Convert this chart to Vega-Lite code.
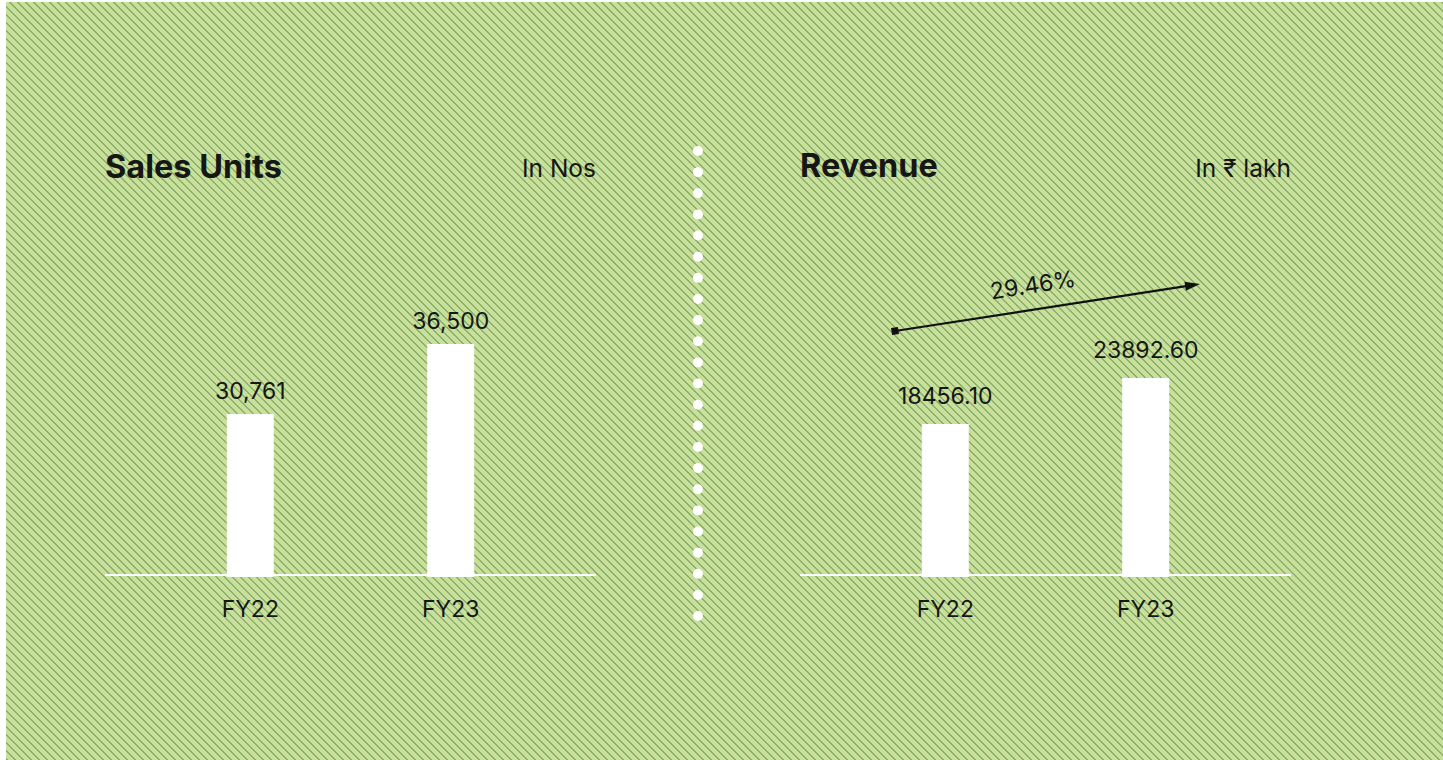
{
"$schema":"https://vega.github.io/schema/vega-lite/v6.json",
"width":1443,"height":760,
"autosize":{"type":"fit","contains":"padding"},
"padding":{"left":6,"top":2,"right":0,"bottom":0},
"background":"#ffffff",
"config":{"view":{"stroke":null,"fill":"#c9e09d"},"font":"Inter","text":{"font":"Inter","color":"#161616"}},
"resolve":{"scale":{"y":"independent"}},
"layer":[
{"data":{"values":[{}]},"mark":{"type":"point","filled":false,"opacity":1,"clip":true,"size":640000,"stroke":"#7aa35c","strokeWidth":1.2,"shape":"M-3.96 -1l2 2m-1.98 -2l2 2m-1.98 -2l2 2m-1.98 -2l2 2m-1.98 -2l2 2m-1.98 -2l2 2m-1.98 -2l2 2m-1.98 -2l2 2m-1.98 -2l2 2m-1.98 -2l2 2m-1.98 -2l2 2m-1.98 -2l2 2m-1.98 -2l2 2m-1.98 -2l2 2m-1.98 -2l2 2m-1.98 -2l2 2m-1.98 -2l2 2m-1.98 -2l2 2m-1.98 -2l2 2m-1.98 -2l2 2m-1.98 -2l2 2m-1.98 -2l2 2m-1.98 -2l2 2m-1.98 -2l2 2m-1.98 -2l2 2m-1.98 -2l2 2m-1.98 -2l2 2m-1.98 -2l2 2m-1.98 -2l2 2m-1.98 -2l2 2m-1.98 -2l2 2m-1.98 -2l2 2m-1.98 -2l2 2m-1.98 -2l2 2m-1.98 -2l2 2m-1.98 -2l2 2m-1.98 -2l2 2m-1.98 -2l2 2m-1.98 -2l2 2m-1.98 -2l2 2m-1.98 -2l2 2m-1.98 -2l2 2m-1.98 -2l2 2m-1.98 -2l2 2m-1.98 -2l2 2m-1.98 -2l2 2m-1.98 -2l2 2m-1.98 -2l2 2m-1.98 -2l2 2m-1.98 -2l2 2m-1.98 -2l2 2m-1.98 -2l2 2m-1.98 -2l2 2m-1.98 -2l2 2m-1.98 -2l2 2m-1.98 -2l2 2m-1.98 -2l2 2m-1.98 -2l2 2m-1.98 -2l2 2m-1.98 -2l2 2m-1.98 -2l2 2m-1.98 -2l2 2m-1.98 -2l2 2m-1.98 -2l2 2m-1.98 -2l2 2m-1.98 -2l2 2m-1.98 -2l2 2m-1.98 -2l2 2m-1.98 -2l2 2m-1.98 -2l2 2m-1.98 -2l2 2m-1.98 -2l2 2m-1.98 -2l2 2m-1.98 -2l2 2m-1.98 -2l2 2m-1.98 -2l2 2m-1.98 -2l2 2m-1.98 -2l2 2m-1.98 -2l2 2m-1.98 -2l2 2m-1.98 -2l2 2m-1.98 -2l2 2m-1.98 -2l2 2m-1.98 -2l2 2m-1.98 -2l2 2m-1.98 -2l2 2m-1.98 -2l2 2m-1.98 -2l2 2m-1.98 -2l2 2m-1.98 -2l2 2m-1.98 -2l2 2m-1.98 -2l2 2m-1.98 -2l2 2m-1.98 -2l2 2m-1.98 -2l2 2m-1.98 -2l2 2m-1.98 -2l2 2m-1.98 -2l2 2m-1.98 -2l2 2m-1.98 -2l2 2m-1.98 -2l2 2m-1.98 -2l2 2m-1.98 -2l2 2m-1.98 -2l2 2m-1.98 -2l2 2m-1.98 -2l2 2m-1.98 -2l2 2m-1.98 -2l2 2m-1.98 -2l2 2m-1.98 -2l2 2m-1.98 -2l2 2m-1.98 -2l2 2m-1.98 -2l2 2m-1.98 -2l2 2m-1.98 -2l2 2m-1.98 -2l2 2m-1.98 -2l2 2m-1.98 -2l2 2m-1.98 -2l2 2m-1.98 -2l2 2m-1.98 -2l2 2m-1.98 -2l2 2m-1.98 -2l2 2m-1.98 -2l2 2m-1.98 -2l2 2m-1.98 -2l2 2m-1.98 -2l2 2m-1.98 -2l2 2m-1.98 -2l2 2m-1.98 -2l2 2m-1.98 -2l2 2m-1.98 -2l2 2m-1.98 -2l2 2m-1.98 -2l2 2m-1.98 -2l2 2m-1.98 -2l2 2m-1.98 -2l2 2m-1.98 -2l2 2m-1.98 -2l2 2m-1.98 -2l2 2m-1.98 -2l2 2m-1.98 -2l2 2m-1.98 -2l2 2m-1.98 -2l2 2m-1.98 -2l2 2m-1.98 -2l2 2m-1.98 -2l2 2m-1.98 -2l2 2m-1.98 -2l2 2m-1.98 -2l2 2m-1.98 -2l2 2m-1.98 -2l2 2m-1.98 -2l2 2m-1.98 -2l2 2m-1.98 -2l2 2m-1.98 -2l2 2m-1.98 -2l2 2m-1.98 -2l2 2m-1.98 -2l2 2m-1.98 -2l2 2m-1.98 -2l2 2m-1.98 -2l2 2m-1.98 -2l2 2m-1.98 -2l2 2m-1.98 -2l2 2m-1.98 -2l2 2m-1.98 -2l2 2m-1.98 -2l2 2m-1.98 -2l2 2m-1.98 -2l2 2m-1.98 -2l2 2m-1.98 -2l2 2m-1.98 -2l2 2m-1.98 -2l2 2m-1.98 -2l2 2m-1.98 -2l2 2m-1.98 -2l2 2m-1.98 -2l2 2m-1.98 -2l2 2m-1.98 -2l2 2m-1.98 -2l2 2m-1.98 -2l2 2m-1.98 -2l2 2m-1.98 -2l2 2m-1.98 -2l2 2m-1.98 -2l2 2m-1.98 -2l2 2m-1.98 -2l2 2m-1.98 -2l2 2m-1.98 -2l2 2m-1.98 -2l2 2m-1.98 -2l2 2m-1.98 -2l2 2m-1.98 -2l2 2m-1.98 -2l2 2m-1.98 -2l2 2m-1.98 -2l2 2m-1.98 -2l2 2m-1.98 -2l2 2m-1.98 -2l2 2m-1.98 -2l2 2m-1.98 -2l2 2m-1.98 -2l2 2m-1.98 -2l2 2m-1.98 -2l2 2m-1.98 -2l2 2m-1.98 -2l2 2m-1.98 -2l2 2m-1.98 -2l2 2m-1.98 -2l2 2m-1.98 -2l2 2m-1.98 -2l2 2m-1.98 -2l2 2m-1.98 -2l2 2m-1.98 -2l2 2m-1.98 -2l2 2m-1.98 -2l2 2m-1.98 -2l2 2m-1.98 -2l2 2m-1.98 -2l2 2m-1.98 -2l2 2m-1.98 -2l2 2m-1.98 -2l2 2m-1.98 -2l2 2m-1.98 -2l2 2m-1.98 -2l2 2m-1.98 -2l2 2m-1.98 -2l2 2m-1.98 -2l2 2m-1.98 -2l2 2m-1.98 -2l2 2m-1.98 -2l2 2m-1.98 -2l2 2m-1.98 -2l2 2m-1.98 -2l2 2m-1.98 -2l2 2m-1.98 -2l2 2m-1.98 -2l2 2m-1.98 -2l2 2m-1.98 -2l2 2m-1.98 -2l2 2m-1.98 -2l2 2m-1.98 -2l2 2m-1.98 -2l2 2m-1.98 -2l2 2m-1.98 -2l2 2m-1.98 -2l2 2m-1.98 -2l2 2m-1.98 -2l2 2m-1.98 -2l2 2m-1.98 -2l2 2m-1.98 -2l2 2m-1.98 -2l2 2m-1.98 -2l2 2m-1.98 -2l2 2m-1.98 -2l2 2m-1.98 -2l2 2m-1.98 -2l2 2m-1.98 -2l2 2m-1.98 -2l2 2m-1.98 -2l2 2m-1.98 -2l2 2m-1.98 -2l2 2m-1.98 -2l2 2m-1.98 -2l2 2m-1.98 -2l2 2m-1.98 -2l2 2m-1.98 -2l2 2m-1.98 -2l2 2m-1.98 -2l2 2m-1.98 -2l2 2m-1.98 -2l2 2m-1.98 -2l2 2m-1.98 -2l2 2m-1.98 -2l2 2m-1.98 -2l2 2m-1.98 -2l2 2m-1.98 -2l2 2m-1.98 -2l2 2m-1.98 -2l2 2m-1.98 -2l2 2m-1.98 -2l2 2m-1.98 -2l2 2m-1.98 -2l2 2m-1.98 -2l2 2m-1.98 -2l2 2m-1.98 -2l2 2m-1.98 -2l2 2m-1.98 -2l2 2m-1.98 -2l2 2m-1.98 -2l2 2m-1.98 -2l2 2m-1.98 -2l2 2m-1.98 -2l2 2m-1.98 -2l2 2m-1.98 -2l2 2m-1.98 -2l2 2m-1.98 -2l2 2m-1.98 -2l2 2m-1.98 -2l2 2m-1.98 -2l2 2m-1.98 -2l2 2m-1.98 -2l2 2m-1.98 -2l2 2m-1.98 -2l2 2m-1.98 -2l2 2m-1.98 -2l2 2m-1.98 -2l2 2m-1.98 -2l2 2m-1.98 -2l2 2m-1.98 -2l2 2m-1.98 -2l2 2m-1.98 -2l2 2m-1.98 -2l2 2m-1.98 -2l2 2m-1.98 -2l2 2m-1.98 -2l2 2m-1.98 -2l2 2m-1.98 -2l2 2m-1.98 -2l2 2m-1.98 -2l2 2m-1.98 -2l2 2m-1.98 -2l2 2m-1.98 -2l2 2m-1.98 -2l2 2m-1.98 -2l2 2m-1.98 -2l2 2m-1.98 -2l2 2m-1.98 -2l2 2m-1.98 -2l2 2m-1.98 -2l2 2m-1.98 -2l2 2m-1.98 -2l2 2m-1.98 -2l2 2m-1.98 -2l2 2m-1.98 -2l2 2m-1.98 -2l2 2m-1.98 -2l2 2m-1.98 -2l2 2m-1.98 -2l2 2m-1.98 -2l2 2m-1.98 -2l2 2m-1.98 -2l2 2m-1.98 -2l2 2m-1.98 -2l2 2m-1.98 -2l2 2m-1.98 -2l2 2m-1.98 -2l2 2m-1.98 -2l2 2m-1.98 -2l2 2m-1.98 -2l2 2m-1.98 -2l2 2m-1.98 -2l2 2m-1.98 -2l2 2m-1.98 -2l2 2"},"encoding":{}},
{"data":{"values":[{"panel":"Sales Units","year":"FY22","value":30761,"label":"30,761"},{"panel":"Sales Units","year":"FY23","value":36500,"label":"36,500"}]},
 "layer":[
  {"mark":{"type":"bar","color":"#ffffff"},"encoding":{
    "x":{"field":"panel","type":"nominal","axis":null,"scale":{"domain":["Sales Units","Revenue"],"paddingInner":0.29353,"paddingOuter":0.18058,"align":0.3944,"round":false}},
    "xOffset":{"field":"year","type":"nominal","scale":{"domain":["FY22","FY23"],"paddingInner":0.76547,"paddingOuter":0.60778,"round":false}},
    "y":{"field":"value","type":"quantitative","stack":null,"axis":null,"scale":{"domain":[2393.5,64539.2],"zero":false,"nice":false}},
    "y2":{"datum":17397.3}}},
  {"data":{"values":[{}]},"mark":{"type":"bar","color":"#ffffff"},"encoding":{
    "x":{"datum":"Sales Units","type":"nominal","axis":null,"scale":{"domain":["Sales Units","Revenue"],"paddingInner":0.29353,"paddingOuter":0.18058,"align":0.3944,"round":false}},
    "y":{"datum":17643.3,"type":"quantitative","axis":null,"scale":{"domain":[2393.5,64539.2],"zero":false,"nice":false}},
    "y2":{"datum":17479.3}}},
  {"mark":{"type":"text","fontSize":23,"baseline":"alphabetic","dy":-15},"encoding":{
    "x":{"field":"panel","type":"nominal","axis":null,"scale":{"domain":["Sales Units","Revenue"],"paddingInner":0.29353,"paddingOuter":0.18058,"align":0.3944,"round":false}},
    "xOffset":{"field":"year","type":"nominal","scale":{"domain":["FY22","FY23"],"paddingInner":0.76547,"paddingOuter":0.60778,"round":false}},
    "y":{"field":"value","type":"quantitative","axis":null,"scale":{"domain":[2393.5,64539.2],"zero":false,"nice":false}},
    "text":{"field":"label"}}},
  {"mark":{"type":"text","fontSize":23,"baseline":"alphabetic","dy":40},"encoding":{
    "x":{"field":"panel","type":"nominal","axis":null,"scale":{"domain":["Sales Units","Revenue"],"paddingInner":0.29353,"paddingOuter":0.18058,"align":0.3944,"round":false}},
    "xOffset":{"field":"year","type":"nominal","scale":{"domain":["FY22","FY23"],"paddingInner":0.76547,"paddingOuter":0.60778,"round":false}},
    "y":{"datum":17397.3,"type":"quantitative","axis":null,"scale":{"domain":[2393.5,64539.2],"zero":false,"nice":false}},
    "text":{"field":"year"}}},
  {"data":{"values":[{}]},"mark":{"type":"text","fontSize":32.5,"fontWeight":"bold","align":"left","baseline":"alphabetic","text":"Sales Units"},"encoding":{
    "x":{"datum":"Sales Units","type":"nominal","bandPosition":0,"axis":null,"scale":{"domain":["Sales Units","Revenue"],"paddingInner":0.29353,"paddingOuter":0.18058,"align":0.3944,"round":false}},
    "y":{"datum":50140,"type":"quantitative","axis":null,"scale":{"domain":[2393.5,64539.2],"zero":false,"nice":false}}}},
  {"data":{"values":[{}]},"mark":{"type":"text","fontSize":24.5,"align":"right","baseline":"alphabetic","text":"In Nos"},"encoding":{
    "x":{"datum":"Sales Units","type":"nominal","bandPosition":1,"axis":null,"scale":{"domain":["Sales Units","Revenue"],"paddingInner":0.29353,"paddingOuter":0.18058,"align":0.3944,"round":false}},
    "y":{"datum":50191.6,"type":"quantitative","axis":null,"scale":{"domain":[2393.5,64539.2],"zero":false,"nice":false}}}},
  {"data":{"values":[{}]},"mark":{"type":"rule","color":"#ffffff","strokeWidth":10,"strokeCap":"round","strokeDash":[0.01,21.13]},"encoding":{
    "x":{"datum":"Sales Units","type":"nominal","bandPosition":1.2077,"axis":null,"scale":{"domain":["Sales Units","Revenue"],"paddingInner":0.29353,"paddingOuter":0.18058,"align":0.3944,"round":false}},
    "y":{"datum":52323.4,"type":"quantitative","axis":null,"scale":{"domain":[2393.5,64539.2],"zero":false,"nice":false}},
    "y2":{"datum":14117.9}}}
 ]},
{"data":{"values":[{"panel":"Revenue","year":"FY22","value":18456.1,"label":"18456.10"},{"panel":"Revenue","year":"FY23","value":23892.6,"label":"23892.60"}]},
 "layer":[
  {"mark":{"type":"bar","color":"#ffffff"},"encoding":{
    "x":{"field":"panel","type":"nominal","axis":null,"scale":{"domain":["Sales Units","Revenue"],"paddingInner":0.29353,"paddingOuter":0.18058,"align":0.3944,"round":false}},
    "xOffset":{"field":"year","type":"nominal","scale":{"domain":["FY22","FY23"],"paddingInner":0.76547,"paddingOuter":0.60778,"round":false}},
    "y":{"field":"value","type":"quantitative","stack":null,"axis":null,"scale":{"domain":[-21254.3,68329.6],"zero":false,"nice":false}},
    "y2":{"datum":373.8}}},
  {"data":{"values":[{}]},"mark":{"type":"bar","color":"#ffffff"},"encoding":{
    "x":{"datum":"Revenue","type":"nominal","axis":null,"scale":{"domain":["Sales Units","Revenue"],"paddingInner":0.29353,"paddingOuter":0.18058,"align":0.3944,"round":false}},
    "y":{"datum":728.4,"type":"quantitative","axis":null,"scale":{"domain":[-21254.3,68329.6],"zero":false,"nice":false}},
    "y2":{"datum":492.0}}},
  {"mark":{"type":"text","fontSize":23,"baseline":"alphabetic","dy":-20},"encoding":{
    "x":{"field":"panel","type":"nominal","axis":null,"scale":{"domain":["Sales Units","Revenue"],"paddingInner":0.29353,"paddingOuter":0.18058,"align":0.3944,"round":false}},
    "xOffset":{"field":"year","type":"nominal","scale":{"domain":["FY22","FY23"],"paddingInner":0.76547,"paddingOuter":0.60778,"round":false}},
    "y":{"field":"value","type":"quantitative","axis":null,"scale":{"domain":[-21254.3,68329.6],"zero":false,"nice":false}},
    "text":{"field":"label"}}},
  {"mark":{"type":"text","fontSize":23,"baseline":"alphabetic","dy":40},"encoding":{
    "x":{"field":"panel","type":"nominal","axis":null,"scale":{"domain":["Sales Units","Revenue"],"paddingInner":0.29353,"paddingOuter":0.18058,"align":0.3944,"round":false}},
    "xOffset":{"field":"year","type":"nominal","scale":{"domain":["FY22","FY23"],"paddingInner":0.76547,"paddingOuter":0.60778,"round":false}},
    "y":{"datum":373.8,"type":"quantitative","axis":null,"scale":{"domain":[-21254.3,68329.6],"zero":false,"nice":false}},
    "text":{"field":"year"}}},
  {"data":{"values":[{}]},"mark":{"type":"text","fontSize":32.5,"fontWeight":"bold","align":"left","baseline":"alphabetic","text":"Revenue"},"encoding":{
    "x":{"datum":"Revenue","type":"nominal","bandPosition":0,"axis":null,"scale":{"domain":["Sales Units","Revenue"],"paddingInner":0.29353,"paddingOuter":0.18058,"align":0.3944,"round":false}},
    "y":{"datum":47650,"type":"quantitative","axis":null,"scale":{"domain":[-21254.3,68329.6],"zero":false,"nice":false}}}},
  {"data":{"values":[{}]},"mark":{"type":"text","fontSize":24.5,"align":"right","baseline":"alphabetic","text":"In ₹ lakh"},"encoding":{
    "x":{"datum":"Revenue","type":"nominal","bandPosition":1,"axis":null,"scale":{"domain":["Sales Units","Revenue"],"paddingInner":0.29353,"paddingOuter":0.18058,"align":0.3944,"round":false}},
    "y":{"datum":47647.7,"type":"quantitative","axis":null,"scale":{"domain":[-21254.3,68329.6],"zero":false,"nice":false}}}},
  {"data":{"values":[{}]},"mark":{"type":"rule","color":"#111111","strokeWidth":2.2},"encoding":{
    "x":{"datum":"Revenue","type":"nominal","bandPosition":0.1935,"axis":null,"scale":{"domain":["Sales Units","Revenue"],"paddingInner":0.29353,"paddingOuter":0.18058,"align":0.3944,"round":false}},
    "y":{"datum":29447.3,"type":"quantitative","axis":null,"scale":{"domain":[-21254.3,68329.6],"zero":false,"nice":false}},
    "x2":{"datum":"Revenue","bandPosition":0.786},
    "y2":{"datum":34742}}},
  {"data":{"values":[{}]},"mark":{"type":"point","shape":"square","filled":true,"opacity":1,"size":49,"angle":351.2,"color":"#111111"},"encoding":{
    "x":{"datum":"Revenue","type":"nominal","bandPosition":0.1935,"axis":null,"scale":{"domain":["Sales Units","Revenue"],"paddingInner":0.29353,"paddingOuter":0.18058,"align":0.3944,"round":false}},
    "y":{"datum":29447.3,"type":"quantitative","axis":null,"scale":{"domain":[-21254.3,68329.6],"zero":false,"nice":false}}}},
  {"data":{"values":[{}]},"mark":{"type":"point","shape":"M1 0L-1 -0.6L-1 0.6Z","filled":true,"opacity":1,"size":225,"angle":351.2,"color":"#111111"},"encoding":{
    "x":{"datum":"Revenue","type":"nominal","bandPosition":0.7996,"axis":null,"scale":{"domain":["Sales Units","Revenue"],"paddingInner":0.29353,"paddingOuter":0.18058,"align":0.3944,"round":false}},
    "y":{"datum":34872,"type":"quantitative","axis":null,"scale":{"domain":[-21254.3,68329.6],"zero":false,"nice":false}}}},
  {"data":{"values":[{}]},"mark":{"type":"text","fontSize":23,"align":"center","baseline":"middle","angle":351.2,"text":"29.46%"},"encoding":{
    "x":{"datum":"Revenue","type":"nominal","bandPosition":0.4745,"axis":null,"scale":{"domain":["Sales Units","Revenue"],"paddingInner":0.29353,"paddingOuter":0.18058,"align":0.3944,"round":false}},
    "y":{"datum":34765.7,"type":"quantitative","axis":null,"scale":{"domain":[-21254.3,68329.6],"zero":false,"nice":false}}}}
 ]}
]
}
